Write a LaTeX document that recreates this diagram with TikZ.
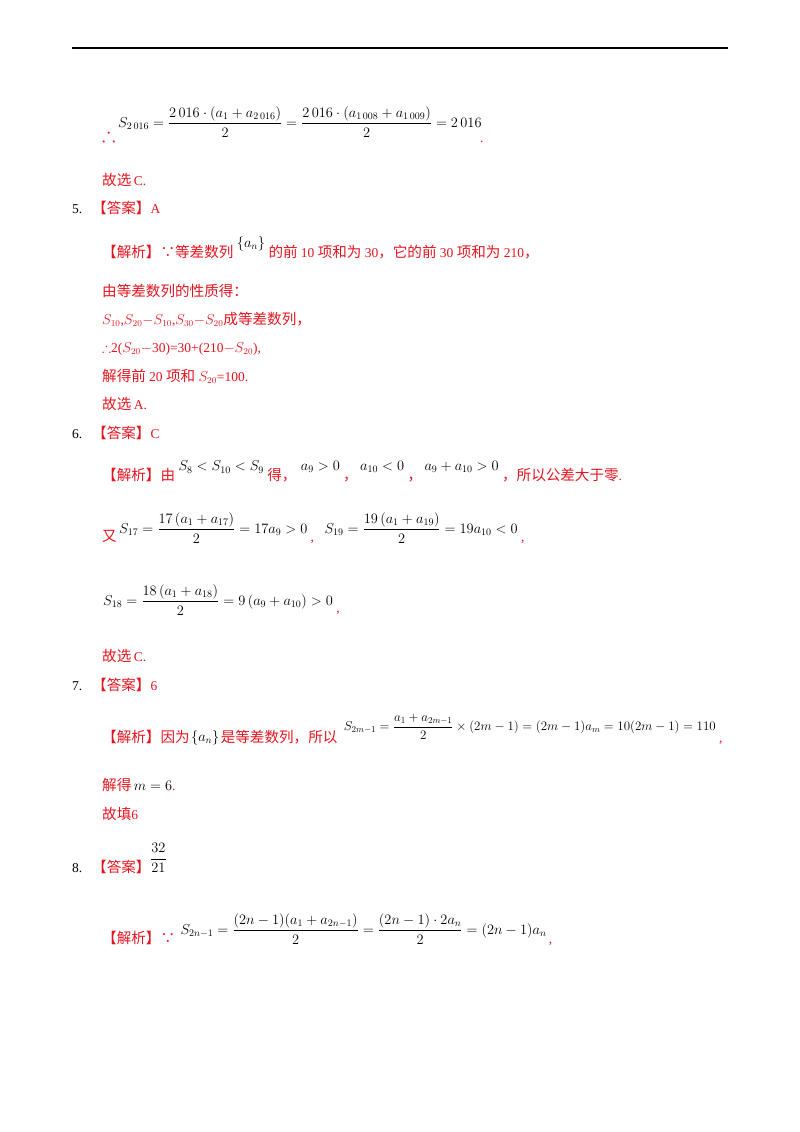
\documentclass[tikz,border=0pt]{standalone}
\usepackage{amsmath,amssymb}
\usepackage{fontspec}
\setmainfont{Liberation Serif}
\newfontfamily\cjk[Scale=1.08]{Noto Sans CJK SC}
\definecolor{rd}{RGB}{230,20,30}
\begin{document}
\begin{tikzpicture}[x=1pt,y=-1pt,
  t/.style={anchor=base west,inner sep=0pt,font=\fontsize{13.5}{16}\selectfont},
  r/.style={t,text=rd},
  m/.style={anchor=west,inner sep=0pt,font=\fontsize{14.5}{17}\selectfont}]
\useasboundingbox (0,0) rectangle (800,1132);
\draw[line width=1.2pt] (72,48) coordinate (l1) -- (728,48) coordinate (l2);
% item 4 tail
\node[r] (a1) at (102,141) {\scalebox{1.5}{$\therefore$}};
\node[m] (a2) at (118,122) {$S_{2\,016}=\dfrac{2\,016\cdot(a_1+a_{2\,016})}{2}=\dfrac{2\,016\cdot(a_{1\,008}+a_{1\,009})}{2}=2\,016$};
\node[r] (a3) at (480,142) {.};
\node[r] (a4) at (102,185) {\cjk 故选\,\rmfamily C.};
% 5
\node[t] (n5) at (72,213) {5.};
\node[r] (b1) at (92,213) {\cjk 【答案】\rmfamily A};
\node[r] (b2) at (102,257) {\cjk 【解析】∵等差数列};
\node[m] (b3) at ([xshift=3pt,yshift=13pt]b2.base east) {$\{a_n\}$};
\node[r] (b4) at ([xshift=3pt]b3.east |- b2.base) {\cjk 的前 \rmfamily 10 \cjk 项和为 \rmfamily 30\cjk ，它的前 \rmfamily 30 \cjk 项和为 \rmfamily 210\cjk ，};
\node[r] (b5) at (102,296) {\cjk 由等差数列的性质得：};
\node[r] (b6) at (102,324) {$S_{10}$,$S_{20}$$-$$S_{10}$,$S_{30}$$-$$S_{20}$\cjk 成等差数列，};
\node[r] (b7) at (102,352) {$\therefore$2($S_{20}$$-$30)=30+(210$-$$S_{20}$),};
\node[r] (b8) at (102,381) {\cjk 解得前 \rmfamily 20 \cjk 项和 \rmfamily $S_{20}$=100.};
\node[r] (b9) at (102,409) {\cjk 故选\,\rmfamily A.};
% 6
\node[t] (n6) at (72,438) {6.};
\node[r] (c1) at (92,438) {\cjk 【答案】\rmfamily C};
\node[r] (c2) at (102,480) {\cjk 【解析】由};
\node[m] (c3) at ([xshift=3pt,yshift=13pt]c2.base east) {$S_8<S_{10}<S_9$};
\node[r] (c4) at ([xshift=3pt]c3.east |- c2.base) {\cjk 得，};
\node[m] (c5) at ([xshift=4pt]c4.base east |- c3.west) {$a_9>0$};
\node[r] (c6) at ([xshift=3pt]c5.east |- c2.base) {\cjk ，};
\node[m] (c7) at ([xshift=2pt]c6.base east |- c3.west) {$a_{10}<0$};
\node[r] (c8) at ([xshift=3pt]c7.east |- c2.base) {\cjk ，};
\node[m] (c9) at ([xshift=2pt]c8.base east |- c3.west) {$a_9+a_{10}>0$};
\node[r] (c10) at ([xshift=3pt]c9.east |- c2.base) {\cjk ，所以公差大于零\rmfamily .};
\node[r] (d1) at (102,541) {\cjk 又};
\node[m] (d2) at ([xshift=2pt,yshift=13pt]d1.base east) {$S_{17}=\dfrac{17\left(a_1+a_{17}\right)}{2}=17a_9>0$};
\node[r] (d3) at ([xshift=3pt]d2.east |- d1.base) {,};
\node[m] (d4) at ([xshift=10pt]d3.base east |- d2.west) {$S_{19}=\dfrac{19\left(a_1+a_{19}\right)}{2}=19a_{10}<0$};
\node[r] (d5) at ([xshift=3pt]d4.east |- d1.base) {,};
\node[m] (e1) at (103,600) {$S_{18}=\dfrac{18\left(a_1+a_{18}\right)}{2}=9\left(a_9+a_{10}\right)>0$};
\node[r] (e2) at ([xshift=3pt]e1.east |- 0,612) {,};
\node[r] (e3) at (102,661) {\cjk 故选\,\rmfamily C.};
% 7
\node[t] (n7) at (72,690) {7.};
\node[r] (f1) at (92,690) {\cjk 【答案】\rmfamily 6};
\node[r] (f2) at (102,742) {\cjk 【解析】因为};
\node[m] (f3) at ([xshift=1pt,yshift=4pt]f2.base east) {$\{a_n\}$};
\node[r] (f4) at ([xshift=1pt]f3.east |- f2.base) {\cjk 是等差数列，所以};
\node[m] (f5) at ([xshift=6pt,yshift=15pt]f4.base east) {\scalebox{0.9}{$S_{2m-1}=\dfrac{a_1+a_{2m-1}}{2}\times(2m-1)=(2m-1)a_m=10(2m-1)=110$}};
\node[r] (f6) at ([xshift=3pt]f5.east |- f2.base) {,};
\node[r] (g1) at (102,790) {\cjk 解得\,\rmfamily\color{black}$m=6$\color{rd}.};
\node[r] (g2) at (102,819) {\cjk 故填\rmfamily 6};
% 8
\node[t] (n8) at (72,872) {8.};
\node[r] (h1) at (92,872) {\cjk 【答案】};
\node[m] (h2) at (150,858) {$\dfrac{32}{21}$};
\node[r] (h3) at (102,943) {\cjk 【解析】∵};
\node[m] (h4) at ([xshift=5pt,yshift=14pt]h3.base east) {$S_{2n-1}=\dfrac{(2n-1)(a_1+a_{2n-1})}{2}=\dfrac{(2n-1)\cdot 2a_n}{2}=(2n-1)a_n$};
\node[r] (h5) at ([xshift=2pt]h4.east |- h3.base) {,};
\end{tikzpicture}
\end{document}
